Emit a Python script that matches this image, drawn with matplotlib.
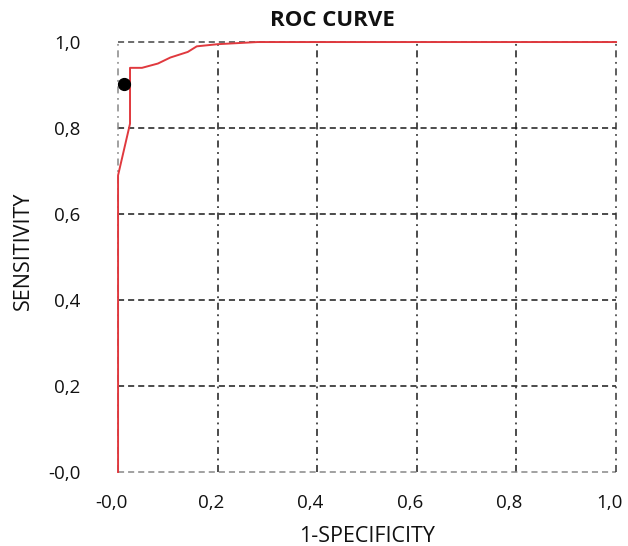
import matplotlib
matplotlib.use("Agg")
import matplotlib.pyplot as plt
from matplotlib.transforms import ScaledTranslation

# ROC curve points
fpr = [0.0, 0.0, 0.024, 0.024, 0.048, 0.08, 0.105, 0.14, 0.158, 0.2, 0.28, 1.0]
tpr = [0.0, 0.69, 0.81, 0.94, 0.94, 0.95, 0.964, 0.977, 0.99, 0.995, 1.0, 1.0]

# single operating point
point_x = [0.012]
point_y = [0.902]

ticks = [0.0, 0.2, 0.4, 0.6, 0.8, 1.0]
tick_labels = ["-0,0", "0,2", "0,4", "0,6", "0,8", "1,0"]

plt.rcParams['font.family'] = ['Open Sans', 'DejaVu Sans']

fig = plt.figure(figsize=(6.28, 5.46), dpi=100)
ax = fig.add_axes([0.188, 0.1355, 0.793, 0.7875])

ax.set_xlim(0, 1)
ax.set_ylim(0, 1)

dash = (0, (4, 2.6))
dashdot = (0, (4.6, 3, 1.2, 3))

# grid lines: horizontal dashed, vertical dash-dot
for t in ticks[1:-1]:
    ax.axhline(t, color="#1a1a1a", ls=dash, lw=1.1, zorder=1)
    ax.axvline(t, color="#1a1a1a", ls=dashdot, lw=1.1, zorder=1)

# frame
for s in ax.spines.values():
    s.set_visible(False)
ax.axhline(1.0, color="#444444", ls=dash, lw=1.1, zorder=1, clip_on=False)
ax.axhline(0.0, color="#888888", ls=dash, lw=1.1, zorder=1, clip_on=False)
ax.axvline(0.0, color="#888888", ls=dashdot, lw=1.1, zorder=1, clip_on=False)
ax.axvline(1.0, color="#333333", ls=dashdot, lw=1.1, zorder=1, clip_on=False)

ax.plot(fpr, tpr, color="#e0393e", lw=1.4, zorder=3, clip_on=False)
ax.plot(point_x, point_y, "o", color="black", ms=8.5, zorder=4, clip_on=False)

ax.set_xticks(ticks)
ax.set_xticklabels(tick_labels)
ax.set_yticks(ticks)
ax.set_yticklabels(tick_labels)
ax.tick_params(axis="both", length=0, labelsize=13.5, colors="#111111")
ax.tick_params(axis="y", pad=27)
ax.tick_params(axis="x", pad=16)
shift = ScaledTranslation(-7 / 100, 0, fig.dpi_scale_trans)
for lab in ax.get_xticklabels():
    lab.set_transform(lab.get_transform() + shift)

fig.text(0.529, 0.963, "ROC CURVE", fontsize=16, fontweight="bold",
         ha="center", va="center", color="#111111")
ax.text(0.5, -0.149, "1-SPECIFICITY", fontsize=15.5, ha="center", va="center",
        transform=ax.transAxes, color="#111111")
ax.text(-0.191, 0.514, "SENSITIVITY", fontsize=15.5, ha="center", va="center",
        rotation=90, transform=ax.transAxes, color="#111111")

fig.savefig("out.png", dpi=100)
